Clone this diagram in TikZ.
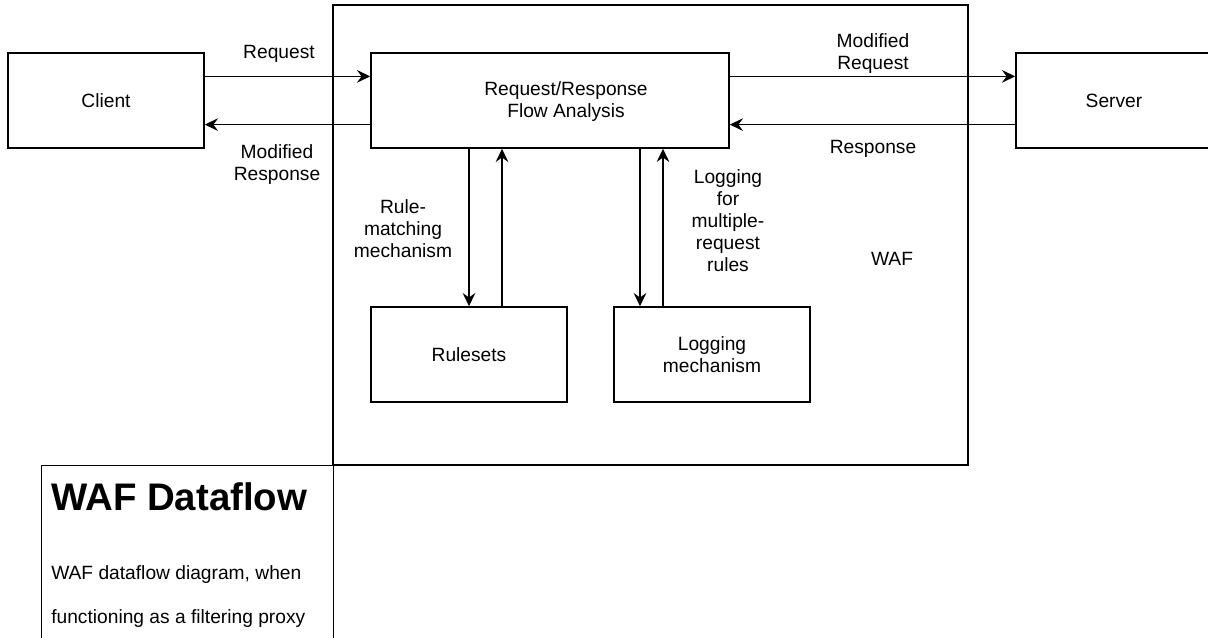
\documentclass[tikz,border=0pt]{standalone}
\usepackage{fontspec}
\setmainfont{Liberation Sans}
\usetikzlibrary{arrows.meta,calc}
\begin{document}
\begin{tikzpicture}[x=0.75pt,y=-0.75pt,
  box/.style={draw, line width=1.1pt, inner sep=0pt, minimum width=147pt, minimum height=71.25pt, font=\fontsize{14.4}{16.5}\selectfont, align=center},
  lbl/.style={inner sep=0pt, font=\fontsize{14.4}{16.5}\selectfont, align=center},
  arr/.style={line width=1.1pt, -{Stealth[length=10pt,width=9.5pt,inset=3.5pt]}}]
\useasboundingbox (0,0) rectangle (1208,638);
\begin{scope}
\clip (0,0) rectangle (1208,638);
% panel
\node[draw, line width=0.9pt, inner sep=0pt, minimum width=219pt, minimum height=150pt, anchor=north west] (panel) at (41,465) {};
% WAF big box
\node[draw, line width=1.1pt, inner sep=0pt, minimum width=476.25pt, minimum height=345pt] (waf) at (650.5,235) {};
\node[lbl] (waflbl) at (892,259) {WAF};
\node[box] (client) at (106,100.5) {Client};
\node[box, minimum width=268.5pt] (flow) at (550,100.5) {};
\node[lbl] (flowtxt) at (566,101.5) {Request/Response\\Flow Analysis};
\node[box] (server) at (1114,100.5) {Server};
\node[box] (rulesets) at (469,354.5) {Rulesets};
\node[box] (logging) at (712,354.5) {Logging\\mechanism};
\end{scope}
% horizontal arrows
\draw[arr] ($(client.north east)!0.25!(client.south east)$) -- ($(flow.north west)!0.25!(flow.south west)$);
\draw[arr] ($(flow.north west)!0.75!(flow.south west)$) -- ($(client.north east)!0.75!(client.south east)$);
\draw[arr] ($(flow.north east)!0.25!(flow.south east)$) -- ($(server.north west)!0.25!(server.south west)$);
\draw[arr] ($(server.north west)!0.75!(server.south west)$) -- ($(flow.north east)!0.75!(flow.south east)$);
% vertical arrows
\coordinate (r2) at ($(rulesets.north)+(33,0)$);
\coordinate (l1) at ($(logging.north)+(-72,0)$);
\coordinate (l2) at ($(logging.north)+(-49,0)$);
\draw[arr] (flow.south -| rulesets.north) -- (rulesets.north);
\draw[arr] (r2) -- (r2 |- flow.south);
\draw[arr] (l1 |- flow.south) -- (l1);
\draw[arr] (l2) -- (l2 |- flow.south);
% labels
\node[lbl] (reqlbl) at (279,54) {Request};
\node[lbl] (mresplbl) at (277,165) {Modified\\Response};
\node[lbl] (mreqlbl) at (873,54) {Modified\\Request};
\node[lbl] (resplbl) at (873,149) {Response};
\node[lbl] (rmlbl) at (403,229) {Rule-\\matching\\mechanism};
\node[lbl] (loglbl) at (728,221) {Logging\\for\\multiple-\\request\\rules};
% panel text
\node[inner sep=0pt, anchor=west, font=\fontsize{28.8}{34}\selectfont\bfseries] (title) at (51,497) {WAF Dataflow};
\node[inner sep=0pt, anchor=west, font=\fontsize{14.4}{16.5}\selectfont] (body1) at (51,575) {WAF dataflow diagram, when};
\node[inner sep=0pt, anchor=west, font=\fontsize{14.4}{16.5}\selectfont] (body2) at (51,619) {functioning as a filtering proxy};
\end{tikzpicture}
\end{document}
